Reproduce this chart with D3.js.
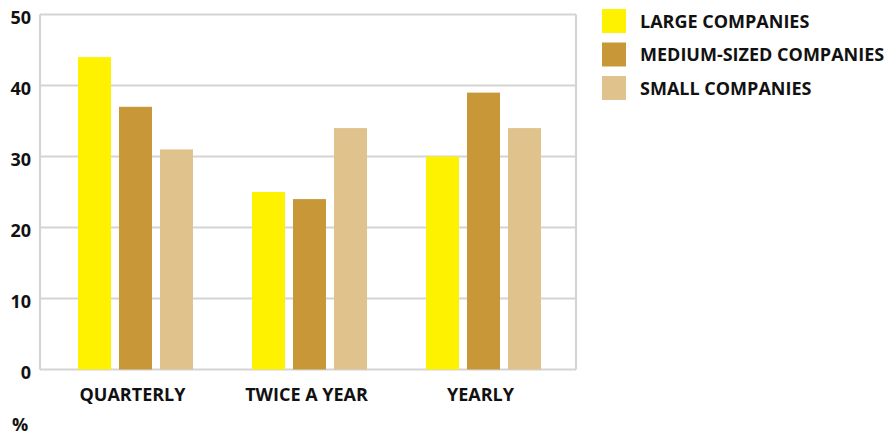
<!DOCTYPE html>
<html>
<head>
<meta charset="utf-8">
<script src="https://cdn.jsdelivr.net/npm/d3@7"></script>
<style>
  html, body { margin: 0; padding: 0; background: #fff; }
  svg { display: block; font-family: "Open Sans", "Noto Sans", sans-serif; font-weight: 700; }
</style>
</head>
<body>
<svg id="chart" width="894" height="436"></svg>
<script>
// Survey frequency by company size (%)
const categories = ["QUARTERLY", "TWICE A YEAR", "YEARLY"];
const seriesNames = ["LARGE COMPANIES", "MEDIUM-SIZED COMPANIES", "SMALL COMPANIES"];
const largeValues = [44, 25, 30];
const mediumValues = [37, 24, 39];
const smallValues = [31, 34, 34];
const yTicks = [0, 10, 20, 30, 40, 50];
const colors = ["#fff200", "#c79738", "#dfc28c"];

const seriesValues = [largeValues, mediumValues, smallValues];

const svg = d3.select("#chart");
const plot = { left: 40, right: 576, top: 14.5, bottom: 369.5 };

const y = d3.scaleLinear().domain([0, 50]).range([plot.bottom, plot.top]);
const x0 = d3.scaleBand().domain(categories).range([78, 541]).paddingInner(59 / 174).paddingOuter(0);
const x1 = d3.scaleBand().domain(seriesNames).range([0, x0.bandwidth()]).paddingInner(8 / 41).paddingOuter(0);

const gridColor = "#d4d4d4";

// Horizontal gridlines
svg.append("g")
  .selectAll("line")
  .data(yTicks)
  .join("line")
  .attr("x1", plot.left)
  .attr("x2", plot.right)
  .attr("y1", d => y(d))
  .attr("y2", d => y(d))
  .attr("stroke", gridColor)
  .attr("stroke-width", 2.2);

// Frame sides
svg.append("line")
  .attr("x1", plot.left).attr("x2", plot.left)
  .attr("y1", y(50)).attr("y2", y(0))
  .attr("stroke", gridColor).attr("stroke-width", 2.2);
svg.append("line")
  .attr("x1", plot.right).attr("x2", plot.right)
  .attr("y1", y(50)).attr("y2", y(0))
  .attr("stroke", gridColor).attr("stroke-width", 2.2);

// Bars
const groups = svg.append("g")
  .selectAll("g")
  .data(categories)
  .join("g")
  .attr("transform", d => `translate(${x0(d)},0)`);

groups.selectAll("rect")
  .data((c, ci) => seriesNames.map((s, si) => ({ s, si, v: seriesValues[si][ci] })))
  .join("rect")
  .attr("x", d => x1(d.s))
  .attr("width", x1.bandwidth())
  .attr("y", d => y(d.v))
  .attr("height", d => y(0) - y(d.v))
  .attr("fill", d => colors[d.si]);

// Y axis labels
const yAxis = d3.axisLeft(y).tickValues(yTicks).tickSize(0).tickPadding(0).tickFormat(d3.format("d"));
const yg = svg.append("g").attr("transform", `translate(31,3.5)`).call(yAxis);
yg.select(".domain").remove();
yg.selectAll("text")
  .attr("fill", "#111")
  .style("font-size", "18px")
  .style("font-weight", 700)
  .style("font-family", '"Open Sans", sans-serif');

// Category labels
const xAxis = d3.axisBottom(x0).tickSize(0).tickPadding(0);
const xg = svg.append("g").attr("transform", `translate(-3,${plot.bottom + 19})`).call(xAxis);
xg.select(".domain").remove();
xg.selectAll("text")
  .attr("fill", "#111")
  .style("font-size", "18px")
  .style("font-weight", 700)
  .style("font-family", '"Open Sans", sans-serif');

// Unit label
svg.append("text")
  .attr("x", 12)
  .attr("y", 431)
  .attr("fill", "#111")
  .style("font-size", "18px")
  .text("%");

// Legend
const legend = svg.append("g").attr("transform", "translate(602,9)");
const li = legend.selectAll("g")
  .data(seriesNames)
  .join("g")
  .attr("transform", (d, i) => `translate(0,${i * 33.5})`);
li.append("rect")
  .attr("width", 24).attr("height", 24)
  .attr("fill", (d, i) => colors[i]);
li.append("text")
  .attr("x", 38)
  .attr("y", 18.5)
  .attr("fill", "#111")
  .style("font-size", "18px")
  .text(d => d);
</script>
</body>
</html>
